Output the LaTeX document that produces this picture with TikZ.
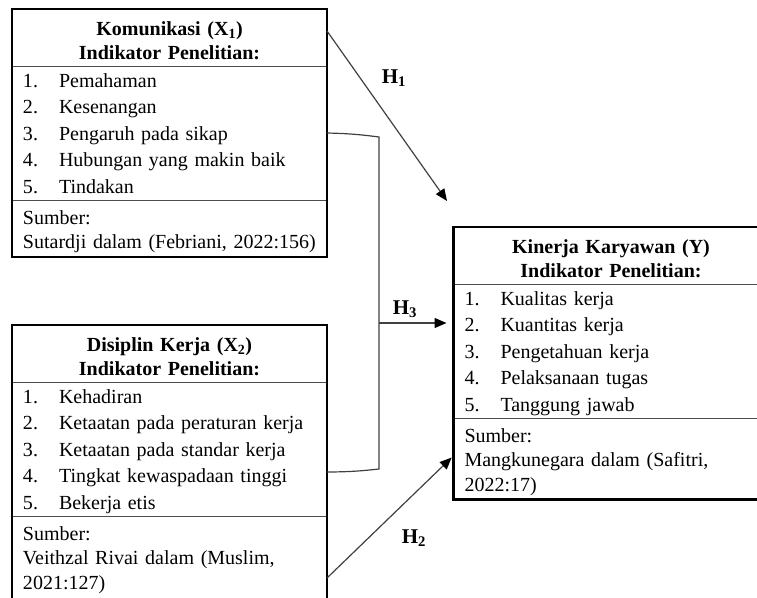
\documentclass[tikz,border=0pt]{standalone}
\usepackage{fontspec}
\setmainfont{Liberation Serif}
\usetikzlibrary{positioning,arrows.meta}

\newcommand{\nomor}[1]{\makebox[36pt][l]{#1}}

\begin{document}
\begin{tikzpicture}[x=1pt,y=-1pt,>={Triangle[length=12pt,width=10pt,color=black]},
    box part/.style={draw=black!70,line width=0.8pt,inner xsep=11pt,inner ysep=0pt,outer sep=0pt,text width=293pt},
    head node/.style={box part,align=center,font=\bfseries\fontsize{20}{24}\selectfont,text height=26pt,text depth=31pt},
    list node/.style={box part,align=left,font=\fontsize{20}{26.5}\selectfont,text height=21pt,text depth=113pt},
    source node/.style={box part,align=left,font=\fontsize{20}{24.5}\selectfont,text height=24pt,text depth=33pt},
    frame/.style={draw=black,line width=2.8pt},
    link/.style={draw=black!75,line width=1.2pt},
    hyp node/.style={font=\bfseries\fontsize{21}{25}\selectfont,inner sep=0pt}]
    \useasboundingbox (0,0) rectangle (757,597);
    \clip (0,0) rectangle (757,597);

    \node[head node] (k1) at (169.5,9) [anchor=north]{Komunikasi (X\textsubscript{1})\\ Indikator Penelitian:};
    \node[list node] (k2) [below = 0pt of k1]{\nomor{1.}Pemahaman\\ \nomor{2.}Kesenangan\\ \nomor{3.}Pengaruh pada sikap\\ \nomor{4.}Hubungan yang makin baik\\ \nomor{5.}Tindakan};
    \node[source node] (k3) [below = 0pt of k2]{Sumber:\\ Sutardji dalam (Febriani, 2022:156)};

    \node[head node] (d1) at (169.5,325) [anchor=north]{Disiplin Kerja (X\textsubscript{2})\\ Indikator Penelitian:};
    \node[list node] (d2) [below = 0pt of d1]{\nomor{1.}Kehadiran\\ \nomor{2.}Ketaatan pada peraturan kerja\\ \nomor{3.}Ketaatan pada standar kerja\\ \nomor{4.}Tingkat kewaspadaan tinggi\\ \nomor{5.}Bekerja etis};
    \node[source node,text depth=62pt] (d3) [below = 0pt of d2]{Sumber:\\ Veithzal Rivai dalam (Muslim,\\ 2021:127)};

    \node[head node] (y1) at (611,227) [anchor=north]{Kinerja Karyawan (Y)\\ Indikator Penelitian:};
    \node[list node] (y2) [below = 0pt of y1]{\nomor{1.}Kualitas kerja\\ \nomor{2.}Kuantitas kerja\\ \nomor{3.}Pengetahuan kerja\\ \nomor{4.}Pelaksanaan tugas\\ \nomor{5.}Tanggung jawab};
    \node[source node,text depth=57.5pt] (y3) [below = 0pt of y2]{Sumber:\\ Mangkunegara dalam (Safitri,\\ 2022:17)};

    \draw[frame] (k1.north west) rectangle (k3.south east);
    \draw[frame] (d1.north west) rectangle (d3.south east);
    \draw[frame] (y1.north west) rectangle (y3.south east);

    \coordinate (t1) at (447,201);
    \coordinate (ka) at (379,137);
    \coordinate (kt) at (379,323);
    \coordinate (kb) at (379,469);

    \draw[link] (k2.east) to[bend left=3] (ka) -- (kb) to[bend left=3] ([yshift=-23pt]d2.east);

    \path[->,every edge/.append style={link}]
        ([yshift=6.5pt]k1.east) edge (t1)
        (kt) edge[shorten >=7pt] (kt -| y2.west)
        ([yshift=-19pt]d3.east) edge[shorten >=2.5pt] ([yshift=3pt]y3.west)
        ;

    \node[hyp node] (h1) at (394,78) {H\textsubscript{1}};
    \node[hyp node] (h3) at (405,309) {H\textsubscript{3}};
    \node[hyp node] (h2) at (414,538) {H\textsubscript{2}};
\end{tikzpicture}
\end{document}
